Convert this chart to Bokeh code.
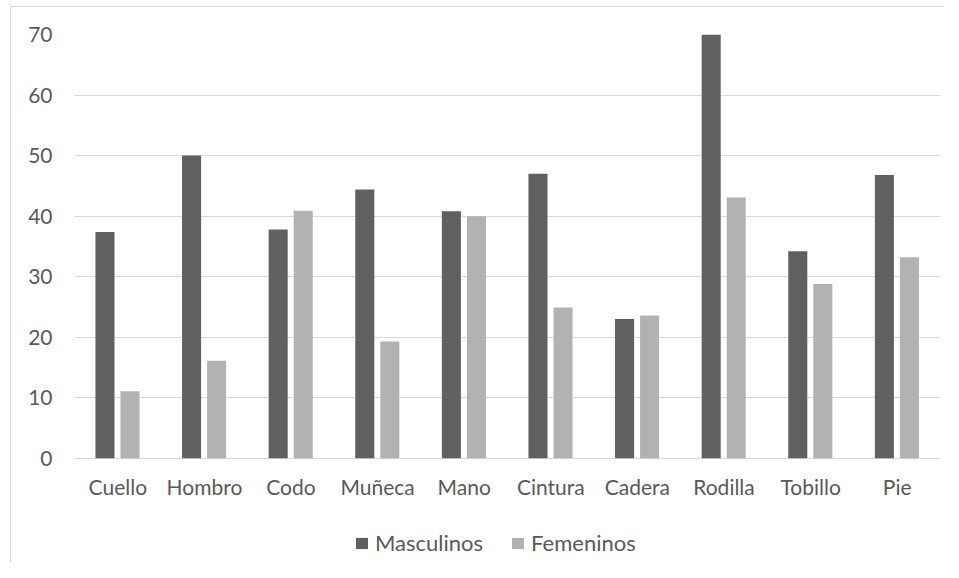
from bokeh.plotting import figure
from bokeh.models import ColumnDataSource, FactorRange, Legend, LegendItem, FixedTicker
from bokeh.transform import dodge
from bokeh.core.properties import value
from bokeh.embed import file_html
from bokeh.resources import INLINE

categories = ["Cuello", "Hombro", "Codo", "Muñeca", "Mano", "Cintura", "Cadera", "Rodilla", "Tobillo", "Pie"]
masculinos = [37.4, 50.0, 37.8, 44.4, 40.8, 47.0, 23.0, 70.0, 34.2, 46.8]
femeninos = [11.1, 16.1, 40.9, 19.3, 40.0, 24.9, 23.6, 43.1, 28.8, 33.2]
y_ticks = [0, 10, 20, 30, 40, 50, 60, 70]

FONT = "Lato"
TXT = "#595959"
GRID = "#d9d9d9"

source = ColumnDataSource(dict(cat=categories, m=masculinos, f=femeninos, zero=[0] * len(categories)))

p = figure(x_range=FactorRange(*categories, range_padding=0), y_range=(-17.2, 70),
           x_axis_location=None,
           width=943, height=562, output_backend="svg", toolbar_location=None,
           min_border_left=74, min_border_right=3, min_border_top=34, min_border_bottom=0)
p.outline_line_color = None
p.background_fill_color = "white"
p.border_fill_color = None
p.styles = {"box-shadow": "inset 10px 6px 0 0 #ffffff, inset 11px 7px 0 0 #d9d9d9"}

rm = p.vbar(x=dodge("cat", -0.148, range=p.x_range), top="m", width=0.22, source=source,
            fill_color="#606060", line_color=None)
rf = p.vbar(x=dodge("cat", 0.141, range=p.x_range), top="f", width=0.22, source=source,
            fill_color="#b2b2b2", line_color=None)

# category labels under the zero line
p.text(x="cat", y="zero", text="cat", source=source, y_offset=28,
       text_align="center", text_baseline="middle",
       text_font=value(FONT), text_font_size="21px", text_color=TXT)

p.yaxis.ticker = FixedTicker(ticks=y_ticks)
p.yaxis.axis_line_color = None
p.yaxis.major_tick_line_color = None
p.yaxis.minor_tick_line_color = None
p.yaxis.major_label_standoff = 16
p.yaxis.major_label_text_font = FONT
p.yaxis.major_label_text_font_size = "21px"
p.yaxis.major_label_text_color = TXT

p.xgrid.grid_line_color = None
p.ygrid.grid_line_color = GRID
p.ygrid.grid_line_width = 1

legend = Legend(items=[LegendItem(label="Masculinos", renderers=[rm]),
                       LegendItem(label="Femeninos", renderers=[rf])],
                orientation="horizontal", location=(280, 6),
                label_text_font=FONT, label_text_font_size="22px", label_text_color=TXT,
                glyph_width=15, glyph_height=14, label_standoff=6, spacing=27,
                padding=0, margin=0, border_line_color=None, background_fill_alpha=0)
p.add_layout(legend, "center")

open("out.html", "w").write(file_html(p, INLINE))
